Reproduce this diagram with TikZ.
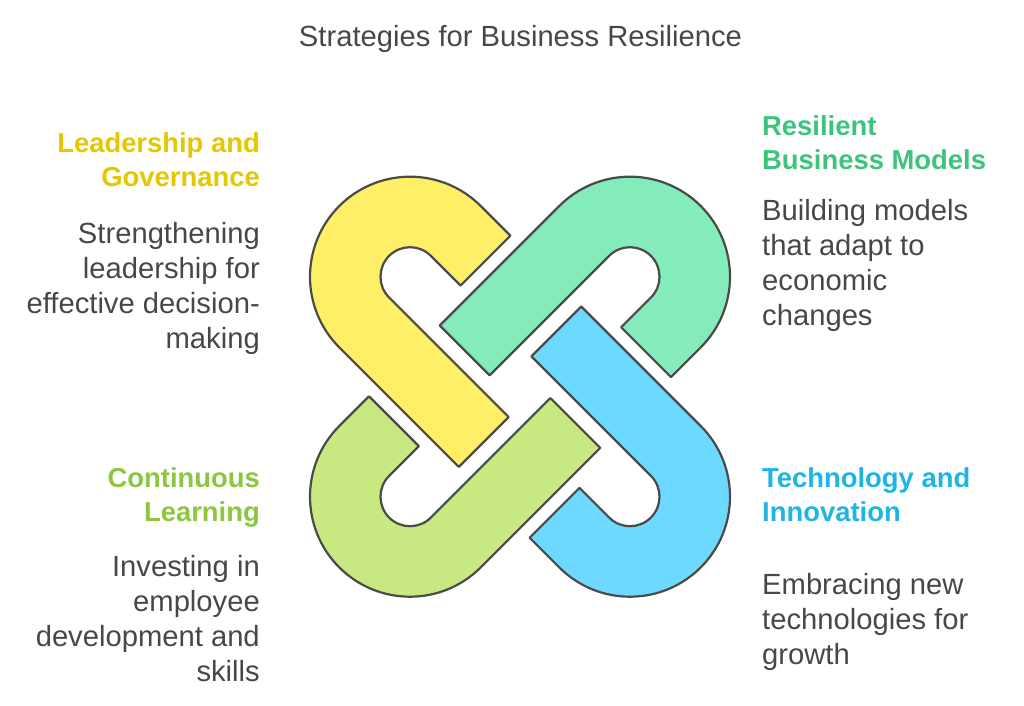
\documentclass[tikz,border=0pt]{standalone}
\usepackage{fontspec}
\setmainfont{Liberation Sans}
\definecolor{ylwfill}{HTML}{FFEF66}
\definecolor{grnfill}{HTML}{84EBBB}
\definecolor{bluefill}{HTML}{6DD9FF}
\definecolor{limefill}{HTML}{C8E982}
\definecolor{ylwtext}{HTML}{E5C700}
\definecolor{grntext}{HTML}{3CC47C}
\definecolor{bluetext}{HTML}{1EB4E6}
\definecolor{limetext}{HTML}{8CC63F}
\definecolor{desctext}{HTML}{474747}
\definecolor{linkline}{HTML}{4A4A4A}

\begin{document}
\begin{tikzpicture}[x=1pt, y=1pt,
  link/.style={draw=linkline, line width=2.2pt, line join=round,
    shift={(520,318.3)}, rotate=#1, shift={(-110,110)}, rotate=-45},
  head/.style={inner sep=0pt, font={\fontsize{27.4}{34.5}\selectfont\bfseries}},
  desc/.style={inner sep=0pt, text=desctext, font={\fontsize{29.2}{35}\selectfont}}]
\useasboundingbox (0,0) rectangle (1024,705);
%\draw [help lines, step=50] (0,0) grid (1024,705);
\node [inner sep=0pt, anchor=north, text=desctext, font={\fontsize{29.2}{34}\selectfont}] (title) at (520.5,680) {Strategies for Business Resilience};
% the four links
\draw [link=0, fill=ylwfill] (42,100) -- (0,100) arc [start angle=90, end angle=270, radius=100] -- (169,-100) -- (169,-29.5) -- (0,-29.5) arc [start angle=270, end angle=90, radius=29.5] -- (42,29.5) -- cycle;
\draw [link=-90, fill=grnfill] (42,100) -- (0,100) arc [start angle=90, end angle=270, radius=100] -- (169,-100) -- (169,-29.5) -- (0,-29.5) arc [start angle=270, end angle=90, radius=29.5] -- (42,29.5) -- cycle;
\draw [link=180, fill=bluefill] (42,100) -- (0,100) arc [start angle=90, end angle=270, radius=100] -- (169,-100) -- (169,-29.5) -- (0,-29.5) arc [start angle=270, end angle=90, radius=29.5] -- (42,29.5) -- cycle;
\draw [link=90, fill=limefill] (42,100) -- (0,100) arc [start angle=90, end angle=270, radius=100] -- (169,-100) -- (169,-29.5) -- (0,-29.5) arc [start angle=270, end angle=90, radius=29.5] -- (42,29.5) -- cycle;
% texts
\node [head, text=ylwtext, anchor=north east, align=right] (leadhead) at (260,573) {Leadership and\\Governance};
\node [desc, anchor=north east, align=right] (leaddesc) at (260,483) {Strengthening\\leadership for\\effective decision-\\making};
\node [head, text=grntext, anchor=north west, align=left] (modelhead) at (762,590) {Resilient\\Business Models};
\node [desc, anchor=north west, align=left] (modeldesc) at (762,506) {Building models\\that adapt to\\economic\\changes};
\node [head, text=limetext, anchor=north east, align=right] (learnhead) at (260,238) {Continuous\\Learning};
\node [desc, anchor=north east, align=right] (learndesc) at (260,150) {Investing in\\employee\\development and\\skills};
\node [head, text=bluetext, anchor=north west, align=left] (techhead) at (762,238) {Technology and\\Innovation};
\node [desc, anchor=north west, align=left] (techdesc) at (762,132) {Embracing new\\technologies for\\growth};
\end{tikzpicture}
\end{document}
